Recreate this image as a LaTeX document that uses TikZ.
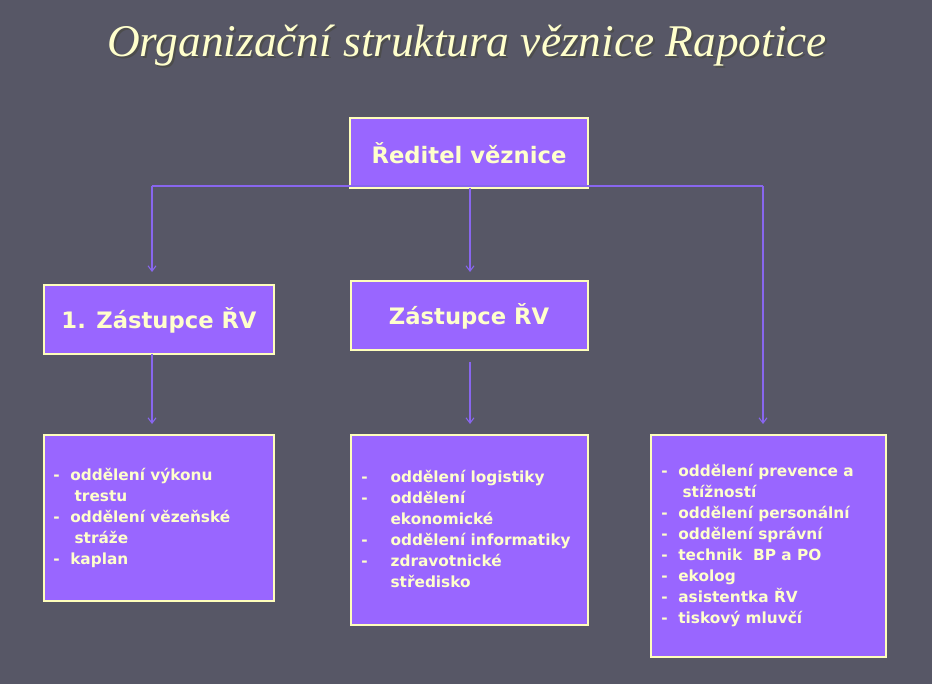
\documentclass[tikz,border=0pt]{standalone}
\usepackage{fontspec}
\setmainfont{DejaVu Sans}
\newfontfamily\titlefont{Liberation Serif}
\usetikzlibrary{arrows.meta}
\definecolor{bg}{HTML}{575766}
\definecolor{boxc}{HTML}{9966FF}
\definecolor{bord}{HTML}{FFFFBB}
\definecolor{txt}{HTML}{FFFFCC}
\definecolor{ln}{HTML}{8866EE}
\begin{document}
\begin{tikzpicture}[x=0.75pt,y=-0.75pt,
 bx/.style={draw=bord,line width=2.2pt,fill=boxc},
 hd/.style={text=txt,font=\bfseries\fontsize{17}{20}\selectfont},
 it/.style={text=txt,font=\bfseries\fontsize{11.5}{15.75}\selectfont,align=left,anchor=north west,inner sep=0pt},
 con/.style={ln,line width=0.8pt},
 arr/.style={con,-{Straight Barb[length=4pt,width=6pt]}}]
\fill[bg] (0,0) rectangle (932,684);
\node[text=black!70,font=\titlefont\itshape\fontsize{34}{40}\selectfont] at (469,48) {Organizační struktura věznice Rapotice};
\node[text=txt,font=\titlefont\itshape\fontsize{34}{40}\selectfont] (title) at (467,46) {Organizační struktura věznice Rapotice};
\draw[bx] (350,118) rectangle (588,188);
\node[hd] (r) at (469,153) {Ředitel věznice};
\draw[bx] (44,285) rectangle (274,354);
\node[hd] (z1) at (159,320) {1. Zástupce ŘV};
\draw[bx] (351,281) rectangle (588,350);
\node[hd] (z2) at (469,316) {Zástupce ŘV};
\draw[bx] (44,435) rectangle (274,601);
\draw[bx] (351,435) rectangle (588,625);
\draw[bx] (651,435) rectangle (886,657);
\coordinate (jl) at (152,186); \coordinate (jr) at (763,186);
\coordinate (rb) at (470,188);
\coordinate (a1) at (152,272); \coordinate (a2) at (470,272);
\coordinate (a3) at (763,424);
\draw[con] (jl) -- (jr);
\draw[arr] (jl) -- (a1);
\draw[arr] (rb) -- (a2);
\draw[arr] (jr) -- (a3);
\coordinate (b1s) at (152,354); \coordinate (b1e) at (152,424);
\coordinate (b2s) at (470,362); \coordinate (b2e) at (470,424);
\draw[arr] (b1s) -- (b1e);
\draw[arr] (b2s) -- (b2e);
\node[it] (la) at (53,468) {-\ \ oddělení výkonu\\\ \ \ \ trestu\\-\ \ oddělení vězeňské\\\ \ \ \ stráže\\-\ \ kaplan};
\node[it] (lb) at (361,468) {\begin{tabular}{@{}p{22pt}@{}l@{}}-&oddělení logistiky\\-&oddělení\\&ekonomické\\-&oddělení informatiky\\-&zdravotnické\\&středisko\end{tabular}};
\node[it] (lc) at (661,464) {-\ \ oddělení prevence a\\\ \ \ \ stížností\\-\ \ oddělení personální\\-\ \ oddělení správní\\-\ \ technik\ \ BP a PO\\-\ \ ekolog\\-\ \ asistentka ŘV\\-\ \ tiskový mluvčí};
\end{tikzpicture}
\end{document}
